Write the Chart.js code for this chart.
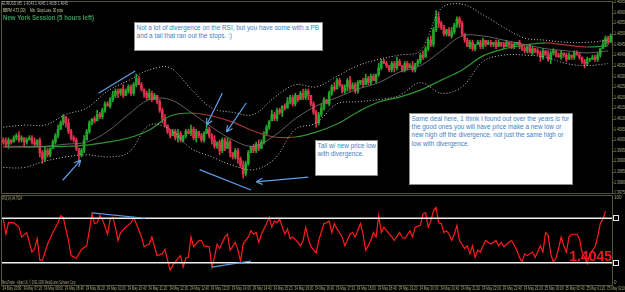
<!DOCTYPE html>
<html>
<head>
<meta charset="utf-8">
<script src="https://cdn.jsdelivr.net/npm/chart.js@4/dist/chart.umd.min.js"></script>
<style>
  html, body { margin: 0; padding: 0; background: #000; }
  body { width: 625px; height: 292px; position: relative; overflow: hidden; font-family: "Liberation Sans", Arial, sans-serif; }
  #priceWrap { position: absolute; left: 0; top: 0; width: 625px; height: 195px; }
  #rsiWrap { position: absolute; left: 0; top: 195px; width: 625px; height: 97px; }
  .note { position: absolute; background: #fff; border: 1px solid #8a8a8a; box-sizing: border-box; overflow: hidden; }
  .note div { font: 8px/8.2px "Liberation Sans", Arial, sans-serif; color: #3f7fc4; white-space: nowrap;
              transform: scaleX(0.8); transform-origin: 0 0; padding: 1px 0 0 2px; }
</style>
</head>
<body>
<div id="priceWrap"><canvas id="priceChart" width="625" height="195"></canvas></div>
<div id="rsiWrap"><canvas id="rsiChart" width="625" height="97"></canvas></div>

<div class="note" style="left:134px;top:22px;width:189px;height:29px">
  <div>Not a lot of divergence on the RSI, but you have some with a PB<br>and a tail that ran out the stops. :)</div>
</div>
<div class="note" style="left:315px;top:140px;width:63px;height:36px">
  <div>Tail w/ new price low<br>with divergence.</div>
</div>
<div class="note" style="left:409px;top:113px;width:164px;height:72px">
  <div>Same deal here, 1 think I found out over the years is for<br>the good ones you will have price make a new low or<br>new high off the divergence, not just the same high or<br>low with divergence.</div>
</div>

<script>
// prices are kept in pips above BASE (1.3900)
const BASE = 1.39;
const firstOpen = 100;
const closes = [99,98,100,99, 101,102,100,101, 99,100,101,99,98,100, 94,91, 95,93,96,
  99,102,105,108,111, 108,104,101,100, 96,93,95, 100,104,108, 110,109,112,111,
  114,117,116,119, 121,123,122, 124,121,123,125,122, 126,129,126,
  124,122,120,122,119,121,118, 114,110,107,104,102, 104,101,103,100,102,104,
  103,105,101,104,102,100,103,105,102, 100,97,99,95, 100,96,99,94,92,95,
  91,88,84,89, 94,97,95,98,96,99, 103,106,109, 112,110,114,113,116,115,
  118,120,117,121,119,122,120,123,121, 117,113,108,112, 115,119,117,122,125,124,128,
  126,123,125,128,124,126,123,127, 128,126,129,127,130,128,131, 134,137,136,
  135,133,136,134,137,135,133,136,134,135,133,136, 137,140,139, 143,147,145,
  152,158,155, 153,150,152,149,151, 154,157,155, 150,147,144,146,143,145,
  146,144,147,145,146, 145,146,144,146,145,144,146,145,144,145,146,144,
  143,142,144,141,143,142, 141,139,142,140,138,141,142,
  140,139,141,140,138,140,139,141,140,139, 137,136,138, 138,139,138,140,
  143,145,148,146,149];
const upperWick = [1,2,1,0,1,1,2,1,0,1,1,1,2,0,1,1,2,1,0,1,
  1,2,1,1,0,2,1,1,1,0,1,2,1,1,0,1,2,1,1,1,
  1,1,2,1,1,0,2,1,1,1,1,2,1,1,0,1,2,1,1,0,
  1,1,2,0,1,1,1,2,1,0,1,1,2,1,1,0,1,1,2,1,
  1,2,0,1,1,1,2,1,0,1,1,1,2,1,1,0,1,1,2,1,
  1,1,0,2,1,1,1,0,1,2,1,1,1,0,1,2,1,1,0,1,
  1,1,2,1,0,1,1,2,1,1,0,1,1,2,1,1,1,0,1,2,
  1,1,1,0,2,1,1,1,0,1,1,2,1,0,1,1,1,2,0,1,
  1,2,1,1,2,1,3,2,1,1,0,1,2,1,1,1,1,0,1,1,
  1,0,1,1,1,0,1,1,0,1,1,0,1,1,0,1,1,0,1,1,
  1,0,1,1,0,1,1,1,0,2,1,1,0,1,1,0,1,1,0,1,
  1,1,0,1,1,0,1,1,1,0,2,1,1,1];
const lowerWick = [1,1,2,1,0,1,1,1,2,1,0,1,1,1,2,2,1,1,1,0,
  1,1,0,1,2,1,1,1,1,3,1,1,0,1,1,1,0,1,1,1,
  0,1,1,1,2,1,1,0,1,1,1,1,0,1,2,1,1,1,0,1,
  1,2,1,1,1,0,1,2,1,1,1,0,1,1,2,1,1,1,0,1,
  2,1,1,2,1,1,0,2,1,1,2,1,2,1,1,0,1,1,1,0,
  1,1,1,0,1,1,1,2,1,0,1,1,1,1,0,1,1,2,1,1,
  2,1,1,1,0,1,1,1,0,1,1,1,2,1,0,1,1,1,1,0,
  1,1,0,1,1,1,0,1,1,1,2,1,0,1,1,1,0,1,1,1,
  1,1,0,1,1,1,1,2,1,1,1,0,1,1,1,2,1,1,0,1,
  1,1,0,1,1,1,0,1,1,1,0,1,1,0,1,1,1,0,1,1,
  1,1,0,1,1,1,2,1,0,1,2,1,1,0,1,1,1,0,1,1,
  0,1,1,2,1,1,0,1,1,1,0,1,1,0];

// indicator readings, one every 8 candles
const bandIdx = [0,8,16,24,32,40,48,56,64,72,80,88,96,104,112,120,128,136,144,152,160,168,176,184,192,200,208,216,224,232];
const bbUpper = [106,107,107,112,115,123,128,133,134,124,115,113,112,120,126,125,130,135,138,140,142,162,164,159,153,148,147,146,146,147];
const bbMiddle = [97,97,97,98,99,104,112,119,119,113,106,100,97,102,110,116,120,124,127,132,135,142,149,149,147,145,143,142,141,142];
const bbLower = [87,87,90,92,93,92,94,107,105,96,92,88,86,91,105,108,117,118,119,121,127,122,125,137,140,140,139,136,135,136];
const maLong = [96.6,96.6,96.8,97.0,97.6,99.0,100.9,104.7,111.3,112.7,111.3,108.4,104.2,101.4,101.4,103.7,107.5,113.2,117.9,120.2,123.5,128.2,133.0,139.6,142.9,144.7,145.7,144.7,143.8,144.3];

const rsiIdx = [0,1,2,4,6,7,9,11,12,13,14,15,17,19,21,22,23,25,26,28,30,32,33,34,35,36,37,38,40,41,42,43,44,45,47,49,50,51,53,54,56,57,58,59,61,62,63,64,65,67,68,69,70,71,72,73,75,76,
  77,79,80,81,82,83,85,86,87,89,90,91,92,94,95,96,97,98,99,101,102,103,104,105,106,108,109,110,111,113,114,115,116,117,118,120,121,123,124,125,126,127,128,130,131,133,134,135,137,138,139,141,142,143,144,145,146,147,149,150,152,153,154,156,157,
  158,160,161,162,163,164,165,166,167,168,169,170,171,172,173,174,175,177,178,179,180,181,182,183,184,185,186,187,189,190,191,192,194,195,197,198,199,200,201,203,204,205,206,207,208,209,210,211,212,213,214,215,216,217,218,220,221,222,223,224,225,226,227,228,229,230,231];
const rsiVal = [74,57,70,70,65,54,59,37,41,52,28,28,46,59,70,78,76,50,33,30,40,44,61,80,69,70,78,74,57,74,76,65,50,59,65,70,76,69,54,43,46,54,43,33,35,40,28,17,22,30,33,20,30,31,54,43,50,50,
  44,43,20,31,46,41,54,57,39,48,39,27,46,54,61,57,59,48,57,69,76,65,72,70,74,57,63,52,54,48,44,50,65,52,43,36,50,69,70,72,59,69,63,54,44,57,59,54,69,57,39,50,59,54,78,59,65,61,54,50,59,54,52,61,54,
  65,67,80,81,65,72,83,87,70,69,59,61,57,50,57,67,50,41,44,35,44,31,39,37,44,50,48,46,50,44,48,43,48,50,39,31,26,35,33,37,31,37,44,37,59,56,35,26,30,41,54,44,37,54,57,57,52,37,31,24,35,39,43,54,69,74,83];
const rsiLevels = [75, 25];

const priceTicks = [75,80,85,90,95,100,105,110,115,120,125,130,135,140,145,150,155,160,165];
const timeIdx = [0,8,16,24,32,40,48,56,64,72,80,88,96,104,112,120,128,136,144,152,160,168,176,184,192,200,208,216,224,232];
const timeLabels = ["14 May 2009","14 May 07:20","14 May 08:00","14 May 08:40","14 May 09:20","14 May 10:00",
  "14 May 10:40","14 May 11:20","14 May 12:00","14 May 12:40","14 May 13:20","14 May 14:00","14 May 14:40",
  "14 May 15:20","14 May 16:00","14 May 16:40","14 May 17:20","14 May 18:00","14 May 18:40","14 May 19:20",
  "14 May 20:00","14 May 20:40","14 May 21:20","14 May 22:00","14 May 22:40","14 May 23:20","15 May 00:00",
  "15 May 00:40","15 May 01:20","15 May 02:00"];

// hand-drawn trend lines / arrows, in (candle, pips) and (candle, rsi)
const priceMarks = [
  { from: [36.5, 122], to: [50.6, 132.5], head: false },
  { from: [22.8, 81], to: [29.7, 90.5], head: true },
  { from: [84, 122], to: [78, 107], head: true },
  { from: [93.2, 117.4], to: [85.6, 103.7], head: true },
  { from: [75.3, 86], to: [95, 76.4], head: false },
  { from: [117, 82.5], to: [97, 80.2], head: true }
];
const rsiMarks = [
  { from: [34, 81], to: [54.5, 75], head: false },
  { from: [80, 20], to: [95, 27], head: false }
];

const GREEN = '#22a62a', RED = '#e0304e';
const MA_UP = '#2f962f', MA_DOWN = '#a83434';
const FRAME = '#55553a', AXIS_TXT = '#a6a67a', BLUE = '#5f9fe6';
const FONT = '"Liberation Sans", Arial, sans-serif';
const X_MIN = -0.5, X_MAX = closes.length - 0.5;

const opens = closes.map((c, i) => i === 0 ? firstOpen : closes[i - 1]);
const bodies = closes.map((c, i) => ({ x: i, y: [opens[i], c] }));
const wicks = closes.map((c, i) => ({ x: i, y: [Math.min(opens[i], c) - lowerWick[i], Math.max(opens[i], c) + upperWick[i]] }));
const candleColors = closes.map((c, i) => c >= opens[i] ? GREEN : RED);
const pts = (xs, ys) => xs.map((x, i) => ({ x: x, y: ys[i] }));

function txt(ctx, s, x, y, font, color, maxW, align) {
  ctx.font = font;
  ctx.fillStyle = color;
  ctx.textAlign = align || 'left';
  ctx.textBaseline = 'middle';
  if (maxW) ctx.fillText(s, x, y, maxW); else ctx.fillText(s, x, y);
}

function drawMarks(chart, marks) {
  const ctx = chart.ctx, xs = chart.scales.x, ys = chart.scales.y;
  ctx.save();
  ctx.strokeStyle = BLUE;
  ctx.lineWidth = 1.2;
  marks.forEach(m => {
    const x1 = xs.getPixelForValue(m.from[0]), y1 = ys.getPixelForValue(m.from[1]);
    const x2 = xs.getPixelForValue(m.to[0]), y2 = ys.getPixelForValue(m.to[1]);
    ctx.beginPath();
    ctx.moveTo(x1, y1);
    ctx.lineTo(x2, y2);
    if (m.head) {
      const a = Math.atan2(y2 - y1, x2 - x1);
      [-0.45, 0.45].forEach(d => {
        ctx.moveTo(x2, y2);
        ctx.lineTo(x2 - 7 * Math.cos(a + d), y2 - 7 * Math.sin(a + d));
      });
    }
    ctx.stroke();
  });
  ctx.restore();
}

function frame(chart) {
  const ctx = chart.ctx, a = chart.chartArea;
  ctx.save();
  ctx.strokeStyle = FRAME;
  ctx.lineWidth = 1;
  ctx.strokeRect(a.left - 0.5, a.top - 0.5, a.right - a.left + 1, a.bottom - a.top + 1);
  ctx.restore();
}

const pricePlugin = {
  id: 'pricePanel',
  afterDraw(chart) {
    const ctx = chart.ctx, a = chart.chartArea, ys = chart.scales.y;
    frame(chart);
    drawMarks(chart, priceMarks);
    ctx.save();
    priceTicks.forEach(v => {
      const y = ys.getPixelForValue(v);
      ctx.fillStyle = FRAME;
      ctx.fillRect(a.right, Math.round(y), 2, 1);
      txt(ctx, (BASE + v / 10000).toFixed(4), a.right + 2, y, '4.5px ' + FONT, AXIS_TXT, 11);
    });
    txt(ctx, 'EURUSD,M5  1.4043 1.4045 1.4038 1.4045', 2, 4, '4.5px ' + FONT, '#b4b4b4', 66);
    txt(ctx, 'BBPM 4.73 (30)     Min. Stop Loss: 30 pips', 3, 10.5, '4.5px ' + FONT, '#c8d49c', 60);
    txt(ctx, 'New York Session (5 hours left)', 3, 18, 'bold 8px ' + FONT, '#3c9a5c', 91);
    ctx.restore();
  }
};

const rsiPlugin = {
  id: 'rsiPanel',
  afterDraw(chart) {
    const ctx = chart.ctx, a = chart.chartArea, xs = chart.scales.x, ys = chart.scales.y;
    frame(chart);
    drawMarks(chart, rsiMarks);
    ctx.save();
    txt(ctx, '100', a.right + 2, ys.getPixelForValue(100) + 2, '4.5px ' + FONT, AXIS_TXT, 10);
    txt(ctx, '0', a.right + 2, ys.getPixelForValue(0) - 2, '4.5px ' + FONT, AXIS_TXT, 10);
    ctx.strokeStyle = '#e8e8e8';
    rsiLevels.forEach(v => {
      const y = Math.round(ys.getPixelForValue(v));
      ctx.strokeRect(a.right + 1.5, y - 2.5, 5, 5);
    });
    txt(ctx, 'RSI(14) 84.7624', 2, 4, '4.5px ' + FONT, AXIS_TXT, 20);
    txt(ctx, 'MetaTrader - Alpari UK, \u00a9 2001-2008 MetaQuotes Software Corp.', 2, a.bottom - 2.5, '4.5px ' + FONT, AXIS_TXT, 74);
    timeIdx.forEach((v, i) => {
      const x = xs.getPixelForValue(v);
      ctx.fillStyle = FRAME;
      ctx.fillRect(Math.round(x), a.bottom, 1, 2);
      txt(ctx, timeLabels[i], x - 1, a.bottom + 4, '4.5px ' + FONT, AXIS_TXT, 19);
    });
    txt(ctx, '1.4045', a.right, 62, 'bold 14px ' + FONT, '#e81c1c', null, 'right');
    ctx.restore();
  }
};

const bgPlugin = {
  id: 'bg',
  beforeDraw(chart) {
    const ctx = chart.ctx;
    ctx.save();
    ctx.fillStyle = '#000';
    ctx.fillRect(0, 0, chart.width, chart.height);
    ctx.restore();
  }
};

const xAxis = { type: 'linear', min: X_MIN, max: X_MAX, offset: false, display: false };

new Chart(document.getElementById('priceChart').getContext('2d'), {
  type: 'bar',
  data: {
    datasets: [
      { type: 'line', data: pts(bandIdx, bbUpper), borderColor: '#c4c4c4', borderWidth: 1, borderDash: [1, 2], pointRadius: 0, tension: 0.35, order: 0 },
      { type: 'line', data: pts(bandIdx, bbLower), borderColor: '#c4c4c4', borderWidth: 1, borderDash: [1, 2], pointRadius: 0, tension: 0.35, order: 0 },
      { type: 'line', data: pts(bandIdx, bbMiddle), borderColor: '#7a7a7a', borderWidth: 0.8, pointRadius: 0, tension: 0.35, order: 0 },
      { type: 'line', data: pts(bandIdx, maLong), borderWidth: 1.2, pointRadius: 0, tension: 0.35, order: 0,
        segment: { borderColor: c => c.p1.parsed.y > c.p0.parsed.y ? MA_UP : MA_DOWN } },
      { data: bodies, backgroundColor: candleColors, barThickness: 2, minBarLength: 1, grouped: false, order: 1 },
      { data: wicks, backgroundColor: candleColors, barThickness: 1, grouped: false, order: 2 }
    ]
  },
  options: {
    responsive: false,
    devicePixelRatio: 1,
    animation: false,
    layout: { padding: { left: 2, right: 13, top: 2, bottom: 2 } },
    plugins: { legend: { display: false }, tooltip: { enabled: false } },
    scales: {
      x: xAxis,
      y: { type: 'linear', min: priceTicks[0], max: priceTicks[priceTicks.length - 1], display: false }
    }
  },
  plugins: [bgPlugin, pricePlugin]
});

new Chart(document.getElementById('rsiChart').getContext('2d'), {
  type: 'line',
  data: {
    datasets: [
      ...rsiLevels.map(v => ({ data: [{ x: X_MIN, y: v }, { x: X_MAX, y: v }], borderColor: '#f0f0f0', borderWidth: 1.5, pointRadius: 0 })),
      { data: pts(rsiIdx, rsiVal), borderColor: '#ff1c1c', borderWidth: 1.2, pointRadius: 0, tension: 0 }
    ]
  },
  options: {
    responsive: false,
    devicePixelRatio: 1,
    animation: false,
    layout: { padding: { left: 2, right: 13, top: 1, bottom: 7 } },
    plugins: { legend: { display: false }, tooltip: { enabled: false } },
    scales: {
      x: xAxis,
      y: { type: 'linear', min: 0, max: 100, display: false }
    }
  },
  plugins: [bgPlugin, rsiPlugin]
});
</script>
</body>
</html>
